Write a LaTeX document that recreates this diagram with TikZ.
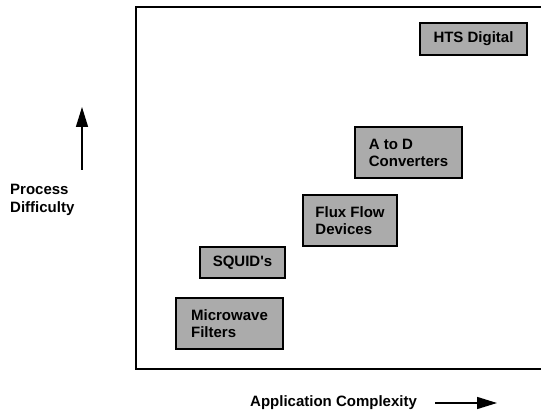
\documentclass[tikz,border=0pt]{standalone}
\usepackage{fontspec}
\setmainfont{Liberation Sans}
\usetikzlibrary{arrows.meta}

\begin{document}
\begin{tikzpicture}[x=1pt,y=-1pt,
  appbox/.style={draw,line width=1.4pt,fill=black!33,inner sep=0pt,align=left,
    font=\fontsize{15}{17}\selectfont\bfseries},
  axislabel/.style={inner sep=0pt,align=left,font=\fontsize{15}{17.5}\selectfont\bfseries},
  axisarrow/.style={line width=1.5pt,-{Triangle[length=20pt,width=12pt]}}]
\useasboundingbox (0,0) rectangle (541,414);

% frame
\draw[line width=1.5pt] (541,7) -| (136,369) -- (541,369);

% applications
\node[appbox,minimum width=107pt,minimum height=32pt] at (473.5,39)   (hts)   {HTS Digital};
\node[appbox,minimum width=107pt,minimum height=51pt] at (408.5,152.5) (atod)  {A to D\\Converters};
\node[appbox,minimum width=94pt, minimum height=51pt] at (350,220.5)  (flux)  {Flux Flow\\Devices};
\node[appbox,minimum width=85pt, minimum height=31pt] at (242.5,262.5) (squid) {SQUID\textquotesingle s};
\node[appbox,minimum width=107pt,minimum height=51pt] at (229.5,323.5) (micro) {Microwave\\Filters};

% axes
\node[axislabel,anchor=north west] at (10,184) (proc) {Process\\Difficulty};
\coordinate (up0) at (82,170);
\coordinate (up1) at (82,107);
\draw[axisarrow] (up0) -- (up1);

\node[axislabel,anchor=west] at (250,403) (appl) {Application Complexity};
\coordinate (right0) at (435,403);
\coordinate (right1) at (497,403);
\draw[axisarrow] (right0) -- (right1);
\end{tikzpicture}
\end{document}
